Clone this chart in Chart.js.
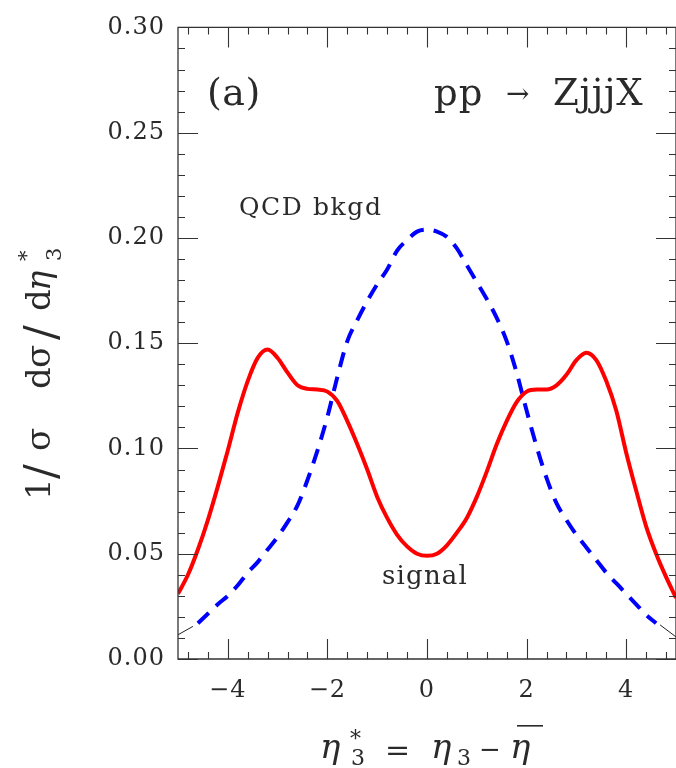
<!DOCTYPE html>
<html>
<head>
<meta charset="utf-8">
<script src="https://cdn.jsdelivr.net/npm/chart.js@4/dist/chart.umd.min.js"></script>
<style>
  html, body { margin: 0; padding: 0; background: #ffffff; }
  #wrap { width: 676px; height: 768px; }
</style>
</head>
<body>
<div id="wrap"><canvas id="c" width="676" height="768"></canvas></div>
<script>
// eta*_3 grid for the signal curve
const signalEta = [
  -5.0, -4.8, -4.6, -4.4, -4.2, -4.0, -3.8, -3.6, -3.4, -3.2,
  -3.0, -2.8, -2.6, -2.4, -2.2, -2.0, -1.8, -1.6, -1.4, -1.2,
  -1.0, -0.8, -0.6, -0.4, -0.2, 0.0, 0.2, 0.4, 0.6, 0.8,
  1.0, 1.2, 1.4, 1.6, 1.8, 2.0, 2.2, 2.4, 2.6, 2.8,
  3.0, 3.2, 3.4, 3.6, 3.8, 4.0, 4.2, 4.4, 4.6, 4.8, 5.0
];
// 1/sigma dsigma/deta*_3 for the Z + 3 jet signal
const signalValues = [
  0.031, 0.040, 0.052, 0.066, 0.082, 0.099, 0.117, 0.132, 0.143, 0.147,
  0.143, 0.136, 0.130, 0.1283, 0.128, 0.127, 0.1225, 0.113, 0.102, 0.090,
  0.077, 0.067, 0.059, 0.0535, 0.050, 0.049, 0.050, 0.054, 0.060, 0.067,
  0.077, 0.089, 0.102, 0.113, 0.122, 0.127, 0.128, 0.128, 0.130, 0.135,
  0.142, 0.1455, 0.142, 0.132, 0.118, 0.098, 0.080, 0.063, 0.050, 0.039, 0.029
];
// eta*_3 grid for the QCD background curve
const qcdEta = [
  -4.6, -4.4, -4.2, -4.0, -3.8, -3.6, -3.4, -3.2, -3.0, -2.8,
  -2.6, -2.4, -2.2, -2.0, -1.8, -1.6, -1.4, -1.2, -1.0, -0.8,
  -0.6, -0.4, -0.2, 0.0, 0.2, 0.4, 0.6, 0.8, 1.0, 1.2,
  1.4, 1.6, 1.8, 2.0, 2.2, 2.4, 2.6, 2.8, 3.0, 3.2,
  3.4, 3.6, 3.8, 4.0, 4.2, 4.4, 4.6
];
const qcdValues = [
  0.017, 0.0215, 0.026, 0.030, 0.035, 0.041, 0.046, 0.052, 0.058, 0.065,
  0.073, 0.085, 0.099, 0.115, 0.134, 0.151, 0.161, 0.170, 0.178, 0.185,
  0.194, 0.199, 0.203, 0.204, 0.203, 0.2005, 0.195, 0.187, 0.179, 0.171,
  0.162, 0.151, 0.136, 0.118, 0.101, 0.086, 0.074, 0.066, 0.059, 0.053,
  0.047, 0.041, 0.036, 0.031, 0.026, 0.021, 0.017
];
// far-forward ends of the QCD curve (thin line)
const qcdTailLeftEta = [-5.0, -4.7];
const qcdTailLeftValues = [0.0115, 0.0155];
const qcdTailRightEta = [4.68, 5.0];
const qcdTailRightValues = [0.0162, 0.0105];

// axis tick labels
const xTickValues = [-4, -2, 0, 2, 4];
const yTickValues = [0.00, 0.05, 0.10, 0.15, 0.20, 0.25, 0.30];

const pts = (xs, ys) => xs.map((x, i) => ({ x: x, y: ys[i] }));

const SERIF = '"DejaVu Serif", "Liberation Serif", serif';
const INK = '#2a2a2a';

// frame with inward ticks on all four sides
const framePlugin = {
  id: 'frame',
  afterDraw(chart) {
    const { ctx, chartArea: a, scales: { x, y } } = chart;
    ctx.save();
    ctx.strokeStyle = '#333333';
    ctx.lineWidth = 1.3;
    ctx.beginPath();
    ctx.moveTo(a.left, a.top); ctx.lineTo(a.right, a.top);
    ctx.lineTo(a.right, a.bottom); ctx.lineTo(a.left, a.bottom);
    ctx.closePath();
    ctx.stroke();
    ctx.lineWidth = 1.1;
    ctx.beginPath();
    for (let k = -12; k <= 12; k++) {
      const px = Math.round(x.getPixelForValue(k * 0.4)) + 0.5;
      const len = (k % 5 === 0) ? 20 : 7;
      ctx.moveTo(px, a.bottom); ctx.lineTo(px, a.bottom - len);
      ctx.moveTo(px, a.top); ctx.lineTo(px, a.top + len);
    }
    for (let k = 0; k <= 30; k++) {
      const py = Math.round(y.getPixelForValue(k * 0.01)) + 0.5;
      const len = (k % 5 === 0) ? 20 : 7;
      ctx.moveTo(a.left, py); ctx.lineTo(a.left + len, py);
      ctx.moveTo(a.right, py); ctx.lineTo(a.right - len, py);
    }
    ctx.stroke();
    ctx.restore();
  }
};

function put(ctx, txt, x, y, size, opts) {
  opts = opts || {};
  ctx.font = (opts.italic ? 'italic ' : '') + size + 'px ' + SERIF;
  ctx.letterSpacing = (opts.spacing || 0) + 'px';
  ctx.fillText(txt, x, y);
}

// annotations and axis titles
const textPlugin = {
  id: 'texts',
  afterDraw(chart) {
    const { ctx } = chart;
    ctx.save();
    ctx.fillStyle = INK;
    ctx.textAlign = 'left';
    ctx.textBaseline = 'alphabetic';

    put(ctx, '(a)', 207, 105, 38, { spacing: 0.5 });
    put(ctx, 'pp', 434, 105, 37, { spacing: 1 });
    put(ctx, '→', 506, 103, 28);
    put(ctx, 'ZjjjX', 553, 105, 37, { spacing: 0.8 });
    put(ctx, 'QCD bkgd', 239, 215, 25, { spacing: 1.6 });
    put(ctx, 'signal', 382, 584, 26, { spacing: 1.2 });

    // x-axis title: eta*_3 = eta_3 - eta-bar
    put(ctx, 'η', 320, 758, 34, { italic: true });
    put(ctx, '3', 351, 765, 22);
    put(ctx, '*', 350, 746, 22);
    put(ctx, '=', 385, 760, 30);
    put(ctx, 'η', 431, 758, 34, { italic: true });
    put(ctx, '3', 457, 765, 22);
    put(ctx, '−', 479, 758, 26);
    put(ctx, 'η', 510, 758, 34, { italic: true });
    ctx.fillRect(517, 725, 26, 1.6);

    // y-axis title: 1/sigma dsigma/deta*_3
    ctx.translate(50, 498);
    ctx.rotate(-Math.PI / 2);
    put(ctx, '1', -2, 0, 34);
    put(ctx, '/', 19, 6, 44);
    put(ctx, 'σ', 47, 0, 34);
    put(ctx, 'd', 109, 0, 34);
    put(ctx, 'σ', 130, 0, 34);
    put(ctx, '/', 158, 6, 44);
    put(ctx, 'd', 187, 0, 34);
    put(ctx, 'η', 207, 0, 34, { italic: true });
    put(ctx, '3', 237, 11, 21);
    put(ctx, '*', 237, -17, 21);
    ctx.restore();
  }
};

const spacingPlugin = {
  id: 'tickSpacing',
  beforeDraw(chart) { chart.ctx.letterSpacing = '1px'; }
};

new Chart(document.getElementById('c'), {
  type: 'line',
  data: {
    datasets: [
      {
        label: 'signal',
        data: pts(signalEta, signalValues),
        borderColor: '#ff0000',
        borderWidth: 4,
        pointRadius: 0,
        cubicInterpolationMode: 'monotone',
        fill: false
      },
      {
        label: 'QCD bkgd',
        data: pts(qcdEta, qcdValues),
        borderColor: '#0000ff',
        borderWidth: 4,
        borderDash: [15, 10],
        pointRadius: 0,
        cubicInterpolationMode: 'monotone',
        fill: false
      },
      {
        label: 'QCD bkgd (forward, left)',
        data: pts(qcdTailLeftEta, qcdTailLeftValues),
        borderColor: '#222222',
        borderWidth: 1,
        pointRadius: 0,
        fill: false
      },
      {
        label: 'QCD bkgd (forward, right)',
        data: pts(qcdTailRightEta, qcdTailRightValues),
        borderColor: '#222222',
        borderWidth: 1,
        pointRadius: 0,
        fill: false
      }
    ]
  },
  options: {
    responsive: false,
    animation: false,
    events: [],
    layout: { padding: { top: 18, right: -1, left: 0, bottom: 0 } },
    plugins: { legend: { display: false }, tooltip: { enabled: false } },
    scales: {
      x: {
        type: 'linear',
        min: -5, max: 5,
        afterFit(s) { s.height = 109; },
        afterBuildTicks(s) { s.ticks = xTickValues.map(v => ({ value: v })); },
        grid: { display: false, drawTicks: false },
        border: { display: false },
        ticks: {
          autoSkip: false,
          maxRotation: 0,
          padding: 17,
          color: INK,
          font: { family: SERIF, size: 24 },
          callback: v => String(v).replace('-', '−')
        }
      },
      y: {
        type: 'linear',
        min: 0, max: 0.30,
        afterFit(s) { s.width = 178; },
        afterBuildTicks(s) { s.ticks = yTickValues.map(v => ({ value: v })); },
        grid: { display: false, drawTicks: false },
        border: { display: false },
        ticks: {
          autoSkip: false,
          padding: 13,
          color: INK,
          font: { family: SERIF, size: 24 },
          callback: v => Number(v).toFixed(2)
        }
      }
    }
  },
  plugins: [spacingPlugin, framePlugin, textPlugin]
});
</script>
</body>
</html>
